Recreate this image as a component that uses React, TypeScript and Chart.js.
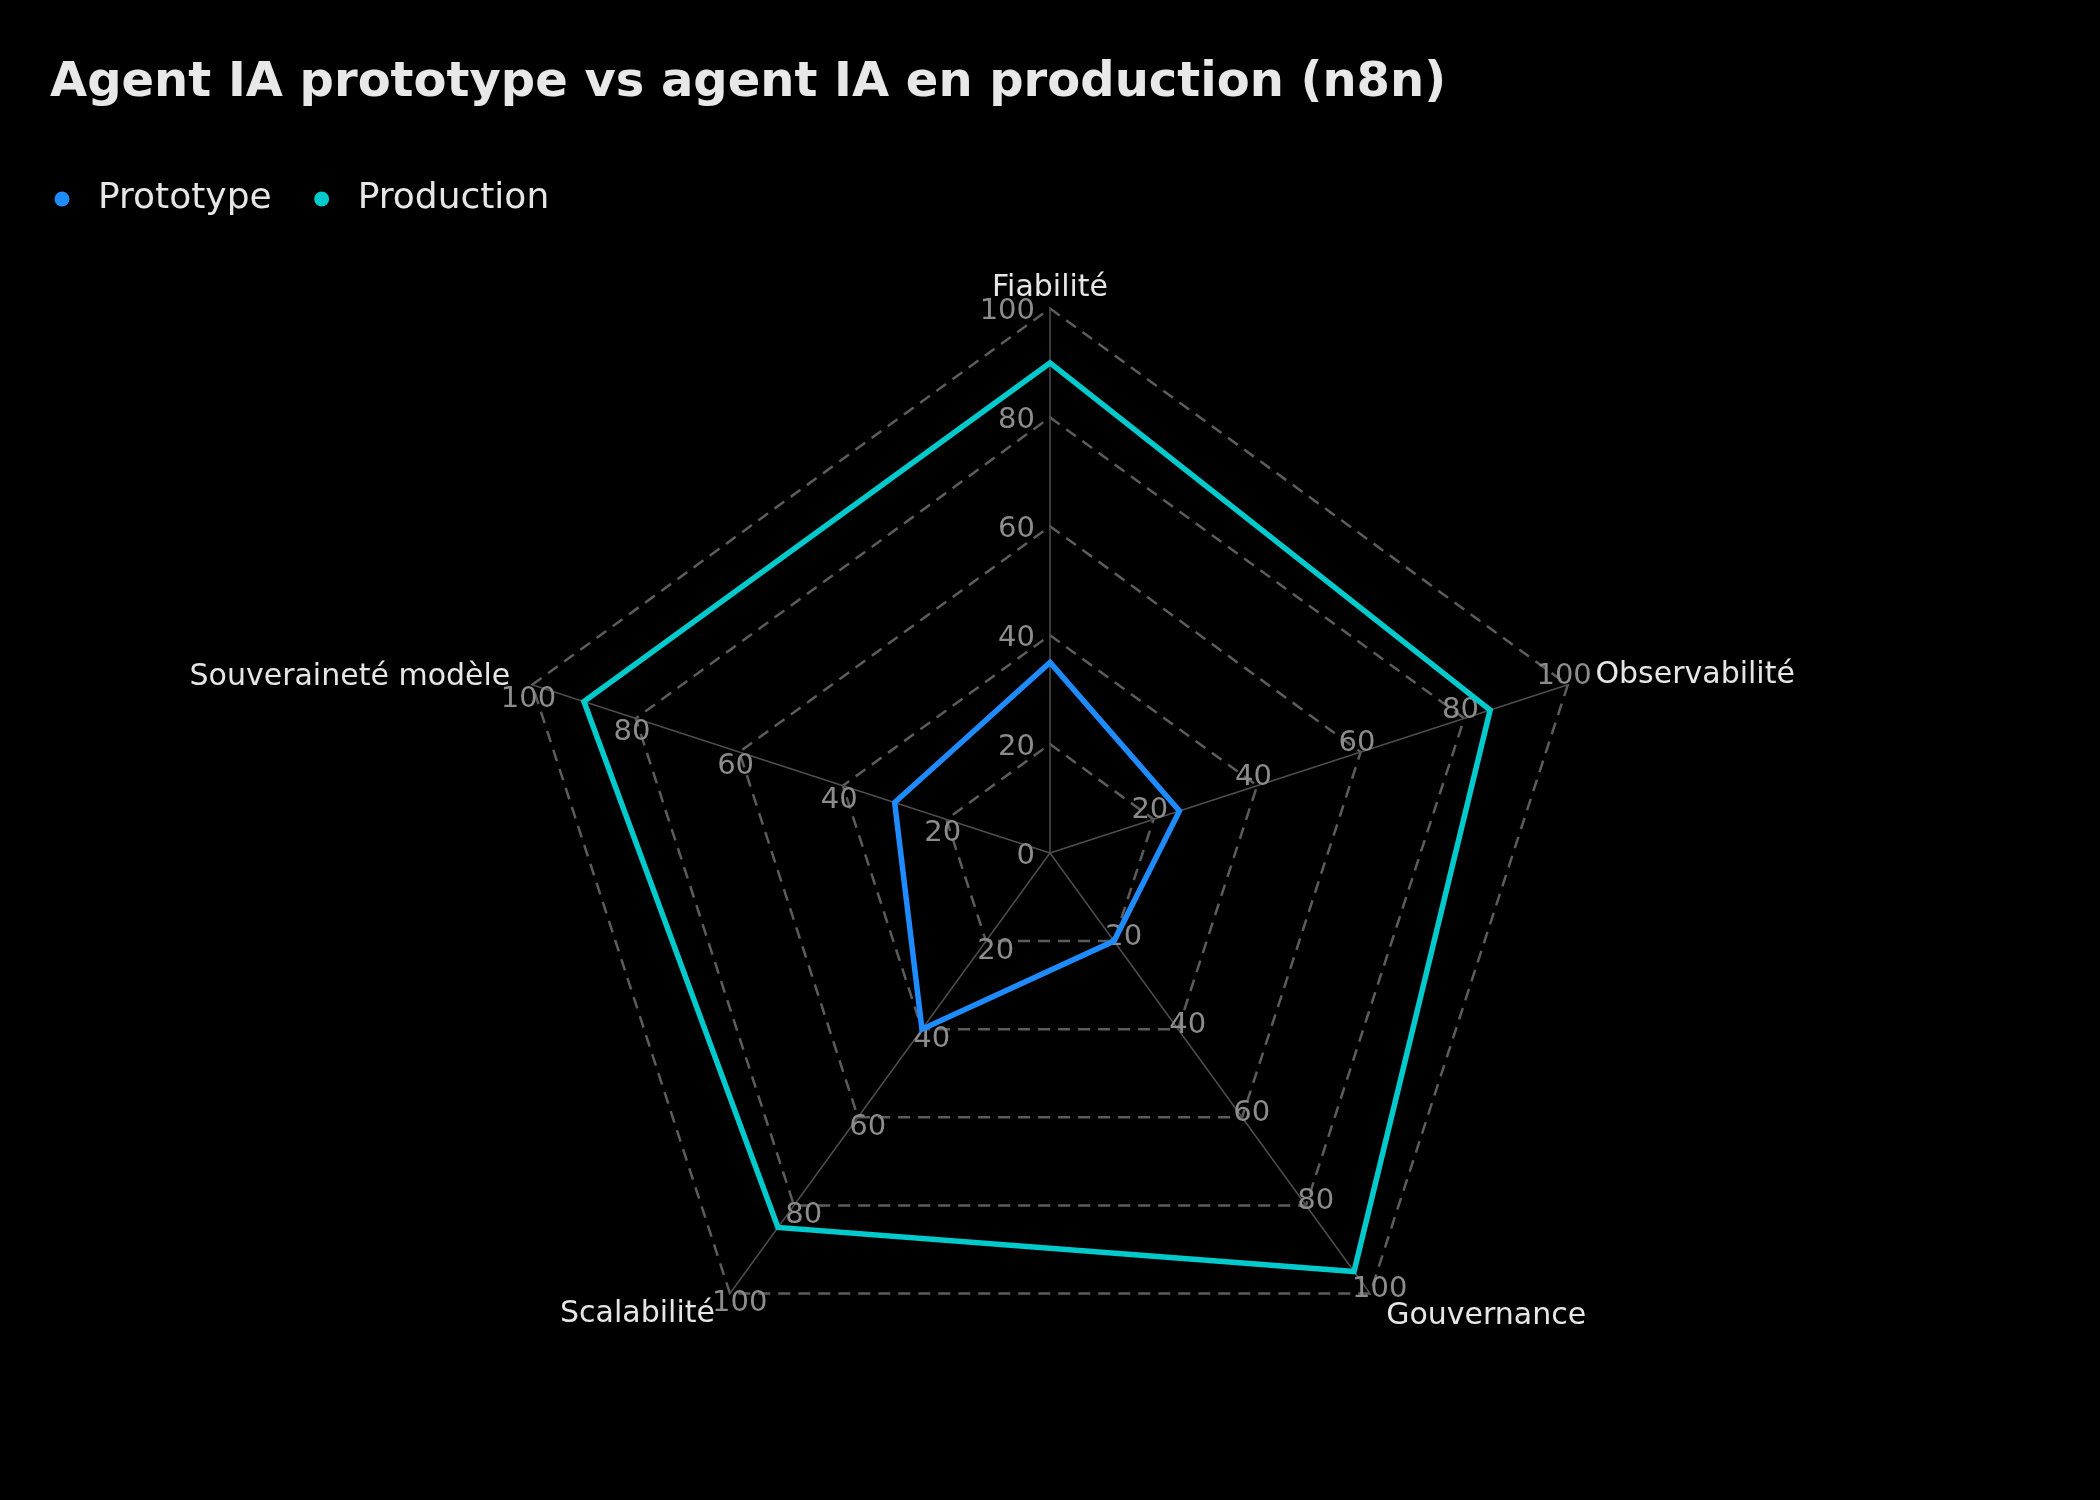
import React, { useEffect, useRef } from 'react';
import { Chart, registerables } from 'chart.js';

Chart.register(...registerables);

// ---------- data ----------
const titleText = 'Agent IA prototype vs agent IA en production (n8n)';
const categories = ['Fiabilité', 'Observabilité', 'Gouvernance', 'Scalabilité', 'Souveraineté modèle'];
const seriesNames = ['Prototype', 'Production'];
const prototypeValues = [35, 25, 20, 40, 30];
const productionValues = [90, 85, 95, 85, 90];
const axisMin = 0;
const axisMax = 100;
const axisStep = 20;

// ---------- styles ----------
const FONT = '"DejaVu Sans", "Liberation Sans", sans-serif';
const BLUE = '#1E8CFF';
const CYAN = '#00CACC';
const TEXT = '#e6e6e6';
const TICK_COLOR = '#8c8c8c';
const pointLabelPadding = [-13.5, 29, 27.5, 25.5, 23];
const pointLabelLineHeight = ['68px', '1px', '1px', '1px', '1px'];

const tickLabelsPlugin = {
  id: 'allAxisTickLabels',
  beforeDatasetsDraw(chart: any) {
    const scale = chart.scales.r;
    if (!scale) return;
    const ctx = chart.ctx;
    ctx.save();
    ctx.font = `29px ${FONT}`;
    ctx.fillStyle = TICK_COLOR;
    ctx.textBaseline = 'middle';
    const n = chart.data.labels.length;
    for (let i = 0; i < n; i++) {
      const outer = scale.getPointPositionForValue(i, scale.max);
      const dx = outer.x - scale.xCenter;
      const dy = outer.y - scale.yCenter;
      const len = Math.hypot(dx, dy) || 1;
      const ux = dx / len;
      const uy = dy / len;
      const px = uy;
      const py = -ux;
      scale.ticks.forEach((tick: any) => {
        if (tick.value === axisMin && i !== 0) return;
        const label = String(tick.value);
        const p = scale.getPointPositionForValue(i, tick.value);
        if (Math.abs(px) > 0.95) {
          ctx.textAlign = px < 0 ? 'right' : 'left';
          ctx.fillText(label, p.x + px * 15, p.y + 3);
        } else {
          ctx.textAlign = 'center';
          ctx.fillText(label, p.x + px * 12, p.y + py * 12 + 3);
        }
      });
    }
    ctx.restore();
  },
};

const legendShiftPlugin = {
  id: 'legendShift',
  afterLayout(chart: any) {
    if (chart.legend) {
      chart.legend.left -= 38;
    }
  },
};

export default function App() {
  const ref = useRef<HTMLCanvasElement>(null);

  useEffect(() => {
    document.body.style.margin = '0';
    document.body.style.background = '#000';
    const chart = new Chart(ref.current as HTMLCanvasElement, {
      type: 'radar',
      data: {
        labels: categories,
        datasets: [
          {
            label: seriesNames[0],
            data: prototypeValues,
            borderColor: BLUE,
            backgroundColor: BLUE,
            fill: false,
            borderWidth: 5.5,
            pointRadius: 0,
            pointHoverRadius: 0,
            pointBackgroundColor: BLUE,
            pointBorderColor: BLUE,
            pointBorderWidth: 0,
          },
          {
            label: seriesNames[1],
            data: productionValues,
            borderColor: CYAN,
            backgroundColor: CYAN,
            fill: false,
            borderWidth: 5.5,
            pointRadius: 0,
            pointHoverRadius: 0,
            pointBackgroundColor: CYAN,
            pointBorderColor: CYAN,
            pointBorderWidth: 0,
          },
        ],
      },
      options: {
        responsive: false,
        animation: false,
        devicePixelRatio: 1,
        layout: { padding: { top: 20, bottom: 75, left: 50, right: 50 } },
        plugins: {
          title: {
            display: true,
            text: titleText,
            align: 'start',
            color: '#e8e8e8',
            font: { family: FONT, size: 48, weight: 'bold', lineHeight: '58px' },
            padding: { top: 35, bottom: 36 },
          },
          legend: {
            display: true,
            position: 'top',
            align: 'start',
            labels: {
              usePointStyle: true,
              pointStyle: 'circle',
              boxWidth: 36,
              boxHeight: 10.6,
              padding: 32,
              color: TEXT,
              font: { family: FONT, size: 36 },
            },
          },
          tooltip: { enabled: false },
        },
        scales: {
          r: {
            min: axisMin,
            max: axisMax,
            beginAtZero: true,
            ticks: { display: false, stepSize: axisStep },
            grid: { color: '#5c5c5c', lineWidth: 2.5 },
            border: { dash: [12, 8] },
            angleLines: { display: true, color: '#4e4e4e', lineWidth: 1.5 },
            pointLabels: {
              display: true,
              color: TEXT,
              padding: (c: any) => pointLabelPadding[c.index] ?? 10,
              font: (c: any) => ({
                family: FONT,
                size: 30,
                lineHeight: pointLabelLineHeight[c.index] ?? '36px',
              }),
            },
          },
        },
      } as any,
      plugins: [tickLabelsPlugin, legendShiftPlugin],
    });
    return () => chart.destroy();
  }, []);

  return (
    <div style={{ position: 'absolute', left: 0, top: 0, width: 2100, height: 1500, background: '#000' }}>
      <canvas ref={ref} width={2100} height={1500} style={{ display: 'block', width: 2100, height: 1500 }} />
    </div>
  );
}
